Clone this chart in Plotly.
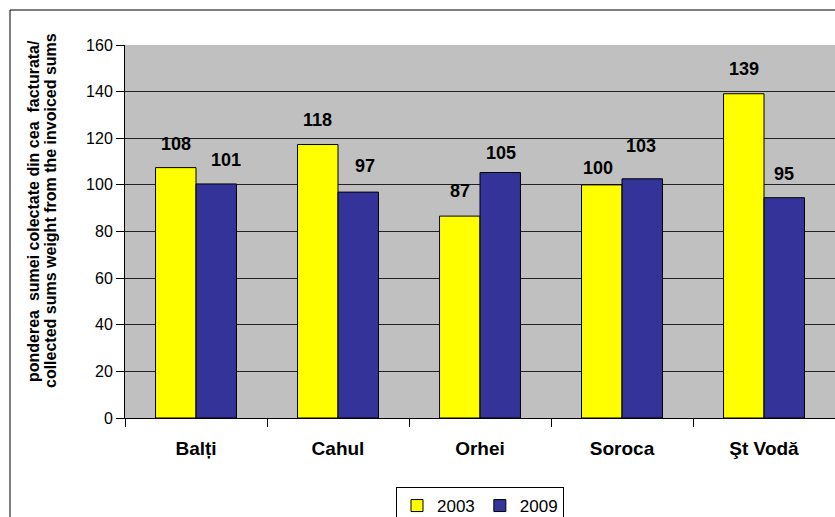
import plotly.graph_objects as go

categories = ["Bal\u021bi", "Cahul", "Orhei", "Soroca", "\u015et Vod\u0103"]
years = ["2003", "2009"]
values_2003 = [107.4, 117.3, 86.6, 100.0, 139.1]
values_2009 = [100.4, 96.9, 105.3, 102.6, 94.5]
labels_2003 = ["108", "118", "87", "100", "139"]
labels_2009 = ["101", "97", "105", "103", "95"]

y_title_1 = "ponderea  sumei colectate din cea  facturata/"
y_title_2 = "collected sums weight from the invoiced sums"

# label placement tweaks (pixels)
dx_2003 = [0, 0, 0, -4, 0]
dy_2003 = [24, 25, 25, 17, 25]
dx_2009 = [10, 7, 1, -1, 0]
dy_2009 = [24, 26, 20, 33, 24]

FONT = "Liberation Sans, Arial, sans-serif"
L, R, T, B = 125, 0, 45, 99
W, H = 835, 517
PW, PH = W - L - R, H - T - B

fig = go.Figure()
fig.add_trace(go.Bar(name=years[0], x=categories, y=values_2003,
                     marker=dict(color="#FFFF00", line=dict(color="black", width=1))))
fig.add_trace(go.Bar(name=years[1], x=categories, y=values_2009,
                     marker=dict(color="#333399", line=dict(color="black", width=1))))

bargap = 0.43
bar_px = (1 - bargap) * PW / len(categories) / 2

ann = []
for i, c in enumerate(categories):
    ann.append(dict(x=c, y=values_2003[i], xref="x", yref="y", text="<b>%s</b>" % labels_2003[i],
                    showarrow=False, xshift=-bar_px / 2 + dx_2003[i], yshift=dy_2003[i],
                    font=dict(family=FONT, size=18, color="black"), yanchor="middle"))
    ann.append(dict(x=c, y=values_2009[i], xref="x", yref="y", text="<b>%s</b>" % labels_2009[i],
                    showarrow=False, xshift=bar_px / 2 + dx_2009[i], yshift=dy_2009[i],
                    font=dict(family=FONT, size=18, color="black"), yanchor="middle"))

def px_x(px):
    return (px - L) / PW

def px_y(py):
    return (H - B - py) / PH

for xp, t in [(33, y_title_1), (50, y_title_2)]:
    ann.append(dict(x=px_x(xp), y=px_y(211), xref="paper", yref="paper", text="<b>%s</b>" % t,
                    textangle=-90, showarrow=False, xanchor="center", yanchor="middle",
                    font=dict(family=FONT, size=16, color="black")))

fig.update_layout(
    width=W, height=H,
    margin=dict(l=L, r=R, t=T, b=B, pad=0, autoexpand=False),
    paper_bgcolor="white", plot_bgcolor="#C0C0C0",
    barmode="group", bargap=bargap, bargroupgap=0,
    font=dict(family=FONT, size=16, color="black"),
    showlegend=True,
    legend=dict(orientation="h", x=px_x(480), y=px_y(487), xanchor="center", yanchor="top",
                bgcolor="white", bordercolor="black", borderwidth=1, itemwidth=30,
                tracegroupgap=0,
                font=dict(family=FONT, size=17, color="black")),
    annotations=ann,
    shapes=[dict(type="rect", xref="paper", yref="paper",
                 x0=px_x(10), x1=px_x(850), y0=px_y(540), y1=px_y(10),
                 line=dict(color="black", width=1), fillcolor="rgba(0,0,0,0)", layer="below")],
    xaxis=dict(type="category", tickson="boundaries", ticks="outside", ticklen=8,
               tickcolor="black", showline=True, linecolor="black", linewidth=1,
               showgrid=False, ticklabelstandoff=13,
               tickfont=dict(family=FONT, size=19, color="black", weight="bold")),
    yaxis=dict(range=[0, 160], dtick=20, ticks="outside", ticklen=8, tickcolor="black",
               showline=True, linecolor="black", linewidth=1,
               showgrid=True, gridcolor="#222222", gridwidth=1, zeroline=False,
               tickfont=dict(family=FONT, size=16, color="black")),
)

fig.write_html("out.html", config={"displayModeBar": False},
               post_script="document.body.style.margin='0';document.body.style.overflow='hidden';")
